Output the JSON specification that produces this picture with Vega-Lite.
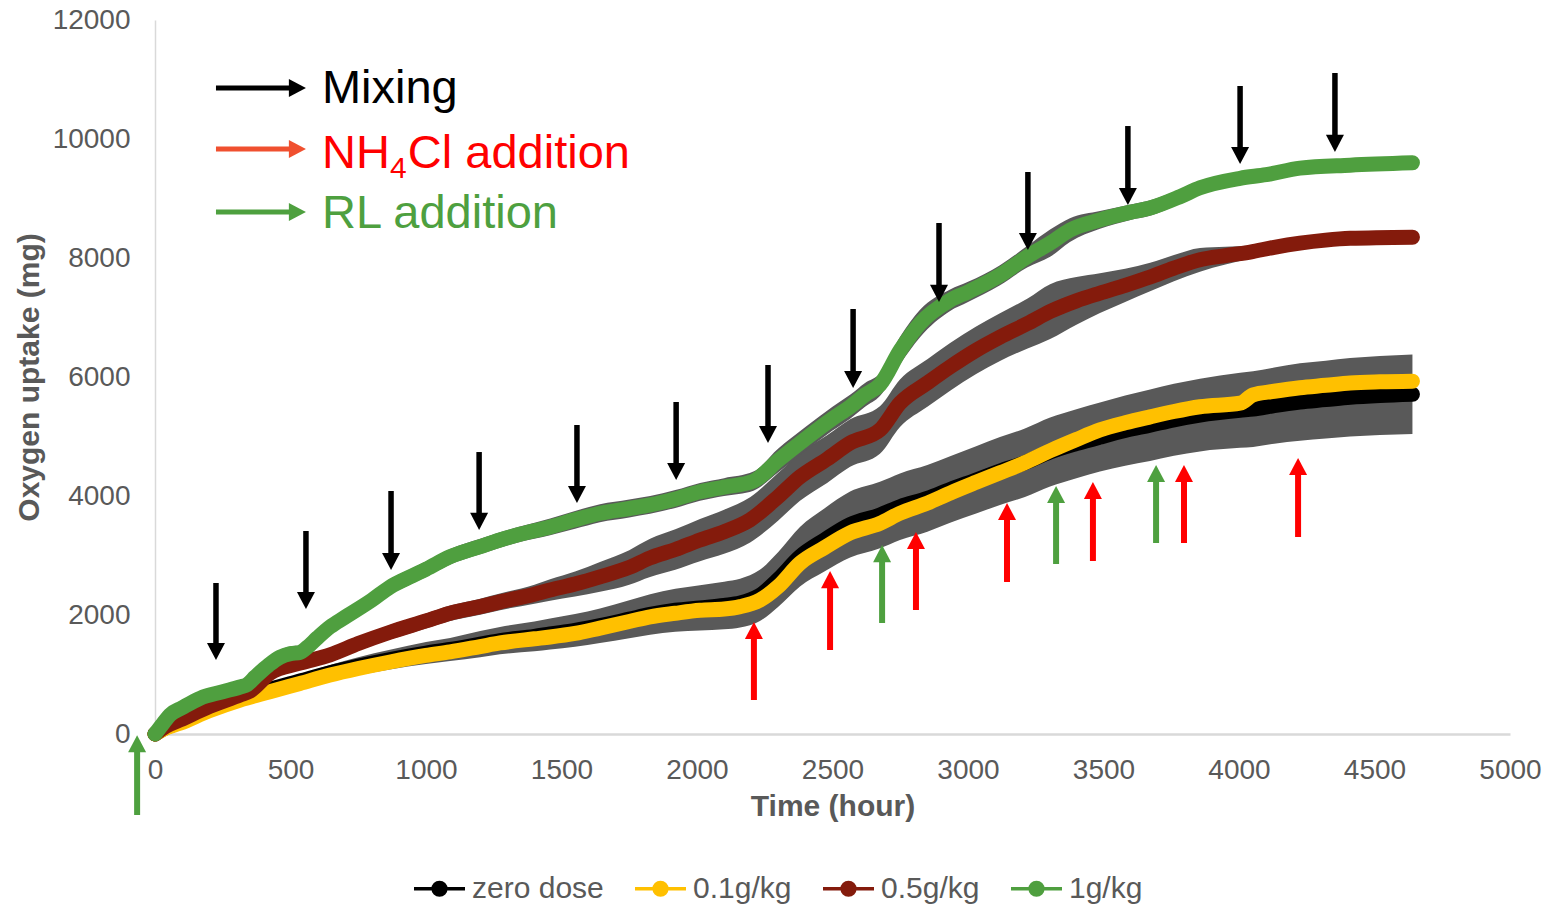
{
  "$schema": "https://vega.github.io/schema/vega-lite/v6.json",
  "width": 1355,
  "height": 714,
  "autosize": {"type": "none"},
  "padding": {"left": 155, "top": 20, "right": 35, "bottom": 172},
  "background": "white",
  "config": {
    "view": {"stroke": null},
    "font": "Liberation Sans",
    "text": {"font": "Liberation Sans"}
  },
  "datasets": {
    "series": [
      {"s":"zero dose","t":0,"v":0,"e":0},{"s":"zero dose","t":40,"v":110,"e":40},{"s":"zero dose","t":92,"v":200,"e":60},{"s":"zero dose","t":200,"v":420,"e":80},{"s":"zero dose","t":314,"v":600,"e":90},{"s":"zero dose","t":424,"v":750,"e":100},{"s":"zero dose","t":535,"v":890,"e":110},{"s":"zero dose","t":646,"v":1030,"e":130},{"s":"zero dose","t":750,"v":1140,"e":150},{"s":"zero dose","t":867,"v":1250,"e":165},{"s":"zero dose","t":1000,"v":1360,"e":185},{"s":"zero dose","t":1089,"v":1420,"e":195},{"s":"zero dose","t":1200,"v":1510,"e":220},{"s":"zero dose","t":1273,"v":1570,"e":230},{"s":"zero dose","t":1400,"v":1640,"e":250},{"s":"zero dose","t":1458,"v":1680,"e":260},{"s":"zero dose","t":1550,"v":1740,"e":275},{"s":"zero dose","t":1642,"v":1820,"e":290},{"s":"zero dose","t":1750,"v":1930,"e":320},{"s":"zero dose","t":1827,"v":2010,"e":340},{"s":"zero dose","t":1920,"v":2080,"e":360},{"s":"zero dose","t":2011,"v":2120,"e":380},{"s":"zero dose","t":2100,"v":2160,"e":400},{"s":"zero dose","t":2159,"v":2200,"e":410},{"s":"zero dose","t":2232,"v":2330,"e":430},{"s":"zero dose","t":2300,"v":2600,"e":460},{"s":"zero dose","t":2380,"v":2980,"e":500},{"s":"zero dose","t":2470,"v":3260,"e":530},{"s":"zero dose","t":2565,"v":3520,"e":555},{"s":"zero dose","t":2675,"v":3680,"e":560},{"s":"zero dose","t":2749,"v":3820,"e":560},{"s":"zero dose","t":2850,"v":3960,"e":560},{"s":"zero dose","t":2934,"v":4110,"e":560},{"s":"zero dose","t":3030,"v":4270,"e":565},{"s":"zero dose","t":3118,"v":4420,"e":570},{"s":"zero dose","t":3210,"v":4560,"e":575},{"s":"zero dose","t":3303,"v":4740,"e":580},{"s":"zero dose","t":3400,"v":4880,"e":580},{"s":"zero dose","t":3487,"v":4990,"e":580},{"s":"zero dose","t":3580,"v":5100,"e":590},{"s":"zero dose","t":3672,"v":5190,"e":600},{"s":"zero dose","t":3760,"v":5280,"e":605},{"s":"zero dose","t":3856,"v":5360,"e":610},{"s":"zero dose","t":4004,"v":5440,"e":630},{"s":"zero dose","t":4052,"v":5460,"e":635},{"s":"zero dose","t":4130,"v":5520,"e":640},{"s":"zero dose","t":4225,"v":5580,"e":650},{"s":"zero dose","t":4320,"v":5620,"e":655},{"s":"zero dose","t":4410,"v":5660,"e":660},{"s":"zero dose","t":4520,"v":5690,"e":665},{"s":"zero dose","t":4640,"v":5710,"e":670},
      {"s":"0.1g/kg","t":0,"v":0,"e":0},{"s":"0.1g/kg","t":40,"v":100,"e":0},{"s":"0.1g/kg","t":92,"v":180,"e":0},{"s":"0.1g/kg","t":200,"v":390,"e":0},{"s":"0.1g/kg","t":314,"v":570,"e":0},{"s":"0.1g/kg","t":424,"v":710,"e":0},{"s":"0.1g/kg","t":535,"v":850,"e":0},{"s":"0.1g/kg","t":646,"v":990,"e":0},{"s":"0.1g/kg","t":750,"v":1100,"e":0},{"s":"0.1g/kg","t":867,"v":1210,"e":0},{"s":"0.1g/kg","t":1000,"v":1320,"e":0},{"s":"0.1g/kg","t":1089,"v":1380,"e":0},{"s":"0.1g/kg","t":1200,"v":1470,"e":0},{"s":"0.1g/kg","t":1273,"v":1530,"e":0},{"s":"0.1g/kg","t":1400,"v":1600,"e":0},{"s":"0.1g/kg","t":1458,"v":1630,"e":0},{"s":"0.1g/kg","t":1550,"v":1690,"e":0},{"s":"0.1g/kg","t":1642,"v":1780,"e":0},{"s":"0.1g/kg","t":1750,"v":1890,"e":0},{"s":"0.1g/kg","t":1827,"v":1970,"e":0},{"s":"0.1g/kg","t":1920,"v":2030,"e":0},{"s":"0.1g/kg","t":2011,"v":2080,"e":0},{"s":"0.1g/kg","t":2100,"v":2100,"e":0},{"s":"0.1g/kg","t":2159,"v":2140,"e":0},{"s":"0.1g/kg","t":2232,"v":2250,"e":0},{"s":"0.1g/kg","t":2300,"v":2480,"e":0},{"s":"0.1g/kg","t":2380,"v":2870,"e":0},{"s":"0.1g/kg","t":2470,"v":3130,"e":0},{"s":"0.1g/kg","t":2565,"v":3380,"e":0},{"s":"0.1g/kg","t":2675,"v":3540,"e":0},{"s":"0.1g/kg","t":2749,"v":3710,"e":0},{"s":"0.1g/kg","t":2850,"v":3880,"e":0},{"s":"0.1g/kg","t":2934,"v":4050,"e":0},{"s":"0.1g/kg","t":3030,"v":4230,"e":0},{"s":"0.1g/kg","t":3118,"v":4390,"e":0},{"s":"0.1g/kg","t":3210,"v":4560,"e":0},{"s":"0.1g/kg","t":3303,"v":4760,"e":0},{"s":"0.1g/kg","t":3400,"v":4950,"e":0},{"s":"0.1g/kg","t":3487,"v":5110,"e":0},{"s":"0.1g/kg","t":3580,"v":5230,"e":0},{"s":"0.1g/kg","t":3672,"v":5330,"e":0},{"s":"0.1g/kg","t":3760,"v":5420,"e":0},{"s":"0.1g/kg","t":3856,"v":5500,"e":0},{"s":"0.1g/kg","t":4004,"v":5560,"e":0},{"s":"0.1g/kg","t":4052,"v":5700,"e":0},{"s":"0.1g/kg","t":4130,"v":5760,"e":0},{"s":"0.1g/kg","t":4225,"v":5820,"e":0},{"s":"0.1g/kg","t":4320,"v":5860,"e":0},{"s":"0.1g/kg","t":4410,"v":5900,"e":0},{"s":"0.1g/kg","t":4520,"v":5920,"e":0},{"s":"0.1g/kg","t":4640,"v":5930,"e":0},
      {"s":"0.5g/kg","t":0,"v":0,"e":0},{"s":"0.5g/kg","t":40,"v":130,"e":30},{"s":"0.5g/kg","t":92,"v":235,"e":40},{"s":"0.5g/kg","t":200,"v":460,"e":50},{"s":"0.5g/kg","t":314,"v":655,"e":50},{"s":"0.5g/kg","t":350,"v":720,"e":50},{"s":"0.5g/kg","t":424,"v":1020,"e":60},{"s":"0.5g/kg","t":535,"v":1190,"e":80},{"s":"0.5g/kg","t":646,"v":1330,"e":100},{"s":"0.5g/kg","t":750,"v":1520,"e":110},{"s":"0.5g/kg","t":867,"v":1710,"e":120},{"s":"0.5g/kg","t":1000,"v":1900,"e":125},{"s":"0.5g/kg","t":1089,"v":2030,"e":130},{"s":"0.5g/kg","t":1200,"v":2140,"e":135},{"s":"0.5g/kg","t":1273,"v":2220,"e":140},{"s":"0.5g/kg","t":1400,"v":2350,"e":160},{"s":"0.5g/kg","t":1458,"v":2420,"e":180},{"s":"0.5g/kg","t":1550,"v":2520,"e":210},{"s":"0.5g/kg","t":1642,"v":2640,"e":250},{"s":"0.5g/kg","t":1750,"v":2800,"e":290},{"s":"0.5g/kg","t":1827,"v":2960,"e":320},{"s":"0.5g/kg","t":1920,"v":3100,"e":340},{"s":"0.5g/kg","t":2011,"v":3260,"e":355},{"s":"0.5g/kg","t":2100,"v":3400,"e":370},{"s":"0.5g/kg","t":2196,"v":3600,"e":380},{"s":"0.5g/kg","t":2300,"v":3990,"e":400},{"s":"0.5g/kg","t":2380,"v":4320,"e":400},{"s":"0.5g/kg","t":2480,"v":4620,"e":400},{"s":"0.5g/kg","t":2565,"v":4890,"e":400},{"s":"0.5g/kg","t":2675,"v":5110,"e":400},{"s":"0.5g/kg","t":2749,"v":5560,"e":400},{"s":"0.5g/kg","t":2850,"v":5900,"e":400},{"s":"0.5g/kg","t":2934,"v":6170,"e":400},{"s":"0.5g/kg","t":3030,"v":6450,"e":400},{"s":"0.5g/kg","t":3118,"v":6670,"e":400},{"s":"0.5g/kg","t":3220,"v":6900,"e":420},{"s":"0.5g/kg","t":3303,"v":7100,"e":460},{"s":"0.5g/kg","t":3400,"v":7280,"e":400},{"s":"0.5g/kg","t":3487,"v":7410,"e":335},{"s":"0.5g/kg","t":3580,"v":7540,"e":280},{"s":"0.5g/kg","t":3672,"v":7680,"e":240},{"s":"0.5g/kg","t":3760,"v":7830,"e":220},{"s":"0.5g/kg","t":3856,"v":7970,"e":200},{"s":"0.5g/kg","t":3950,"v":8040,"e":150},{"s":"0.5g/kg","t":4041,"v":8100,"e":110},{"s":"0.5g/kg","t":4130,"v":8180,"e":80},{"s":"0.5g/kg","t":4225,"v":8250,"e":60},{"s":"0.5g/kg","t":4320,"v":8300,"e":50},{"s":"0.5g/kg","t":4410,"v":8330,"e":50},{"s":"0.5g/kg","t":4640,"v":8350,"e":50},
      {"s":"1g/kg","t":0,"v":0,"e":0},{"s":"1g/kg","t":30,"v":180,"e":40},{"s":"1g/kg","t":55,"v":320,"e":50},{"s":"1g/kg","t":100,"v":440,"e":60},{"s":"1g/kg","t":166,"v":600,"e":60},{"s":"1g/kg","t":250,"v":710,"e":60},{"s":"1g/kg","t":314,"v":790,"e":60},{"s":"1g/kg","t":340,"v":830,"e":70},{"s":"1g/kg","t":370,"v":960,"e":90},{"s":"1g/kg","t":420,"v":1160,"e":110},{"s":"1g/kg","t":461,"v":1290,"e":120},{"s":"1g/kg","t":500,"v":1350,"e":120},{"s":"1g/kg","t":535,"v":1370,"e":120},{"s":"1g/kg","t":560,"v":1450,"e":130},{"s":"1g/kg","t":600,"v":1620,"e":130},{"s":"1g/kg","t":646,"v":1800,"e":130},{"s":"1g/kg","t":700,"v":1960,"e":130},{"s":"1g/kg","t":800,"v":2250,"e":130},{"s":"1g/kg","t":867,"v":2470,"e":130},{"s":"1g/kg","t":950,"v":2660,"e":130},{"s":"1g/kg","t":1000,"v":2770,"e":130},{"s":"1g/kg","t":1089,"v":2980,"e":130},{"s":"1g/kg","t":1200,"v":3150,"e":130},{"s":"1g/kg","t":1273,"v":3260,"e":130},{"s":"1g/kg","t":1350,"v":3360,"e":130},{"s":"1g/kg","t":1458,"v":3480,"e":140},{"s":"1g/kg","t":1550,"v":3600,"e":150},{"s":"1g/kg","t":1642,"v":3710,"e":150},{"s":"1g/kg","t":1750,"v":3790,"e":150},{"s":"1g/kg","t":1827,"v":3850,"e":150},{"s":"1g/kg","t":1920,"v":3950,"e":150},{"s":"1g/kg","t":2011,"v":4070,"e":150},{"s":"1g/kg","t":2100,"v":4150,"e":150},{"s":"1g/kg","t":2208,"v":4250,"e":160},{"s":"1g/kg","t":2300,"v":4600,"e":200},{"s":"1g/kg","t":2400,"v":4960,"e":200},{"s":"1g/kg","t":2500,"v":5300,"e":200},{"s":"1g/kg","t":2565,"v":5500,"e":200},{"s":"1g/kg","t":2620,"v":5700,"e":200},{"s":"1g/kg","t":2675,"v":5870,"e":190},{"s":"1g/kg","t":2750,"v":6450,"e":230},{"s":"1g/kg","t":2823,"v":6900,"e":230},{"s":"1g/kg","t":2934,"v":7290,"e":180},{"s":"1g/kg","t":3000,"v":7430,"e":170},{"s":"1g/kg","t":3118,"v":7710,"e":170},{"s":"1g/kg","t":3218,"v":8020,"e":180},{"s":"1g/kg","t":3303,"v":8250,"e":230},{"s":"1g/kg","t":3376,"v":8470,"e":200},{"s":"1g/kg","t":3487,"v":8640,"e":150},{"s":"1g/kg","t":3600,"v":8770,"e":130},{"s":"1g/kg","t":3672,"v":8840,"e":130},{"s":"1g/kg","t":3782,"v":9030,"e":120},{"s":"1g/kg","t":3856,"v":9180,"e":110},{"s":"1g/kg","t":4004,"v":9340,"e":110},{"s":"1g/kg","t":4100,"v":9400,"e":100},{"s":"1g/kg","t":4225,"v":9510,"e":100},{"s":"1g/kg","t":4410,"v":9560,"e":100},{"s":"1g/kg","t":4640,"v":9600,"e":100}
    ],
    "arrows": [
      {"k":"mix","x0":225,"x1":225,"y0":2538,"y1":1244},
      {"k":"mix","x0":557,"x1":557,"y0":3412,"y1":2101},
      {"k":"mix","x0":871,"x1":871,"y0":4084,"y1":2756},
      {"k":"mix","x0":1196,"x1":1196,"y0":4739,"y1":3429},
      {"k":"mix","x0":1557,"x1":1557,"y0":5193,"y1":3882},
      {"k":"mix","x0":1923,"x1":1923,"y0":5580,"y1":4269},
      {"k":"mix","x0":2262,"x1":2262,"y0":6202,"y1":4891},
      {"k":"mix","x0":2576,"x1":2576,"y0":7143,"y1":5815},
      {"k":"mix","x0":2893,"x1":2893,"y0":8588,"y1":7261},
      {"k":"mix","x0":3221,"x1":3221,"y0":9445,"y1":8134},
      {"k":"mix","x0":3590,"x1":3590,"y0":10218,"y1":8891},
      {"k":"mix","x0":4004,"x1":4004,"y0":10891,"y1":9580},
      {"k":"mix","x0":4354,"x1":4354,"y0":11109,"y1":9782},
      {"k":"nh4","x0":2210,"x1":2210,"y0":571,"y1":1882},
      {"k":"nh4","x0":2491,"x1":2491,"y0":1412,"y1":2739},
      {"k":"nh4","x0":2808,"x1":2808,"y0":2084,"y1":3395},
      {"k":"nh4","x0":3144,"x1":3144,"y0":2555,"y1":3882},
      {"k":"nh4","x0":3461,"x1":3461,"y0":2908,"y1":4235},
      {"k":"nh4","x0":3797,"x1":3797,"y0":3210,"y1":4521},
      {"k":"nh4","x0":4218,"x1":4218,"y0":3311,"y1":4639},
      {"k":"rl","x0":-66,"x1":-66,"y0":-1361,"y1":-20},
      {"k":"rl","x0":2683,"x1":2683,"y0":1866,"y1":3176},
      {"k":"rl","x0":3325,"x1":3325,"y0":2857,"y1":4168},
      {"k":"rl","x0":3694,"x1":3694,"y0":3210,"y1":4521},
      {"k":"legmix","x0":225,"x1":557,"y0":10857,"y1":10857},
      {"k":"legnh4","x0":225,"x1":557,"y0":9832,"y1":9832},
      {"k":"legrl","x0":225,"x1":557,"y0":8773,"y1":8773}
    ],
    "texts": [
      {"label":"Mixing","k":"txtmix","x":616,"y":10597,"sz":"big"},
      {"label":"NH","k":"txtnh4","x":616,"y":9521,"sz":"big"},
      {"label":"4","k":"txtnh4","x":867,"y":9345,"sz":"sub"},
      {"label":"Cl addition","k":"txtnh4","x":933,"y":9521,"sz":"big"},
      {"label":"RL addition","k":"txtrl","x":616,"y":8496,"sz":"big"}
    ]
  },
  "layer": [
    {
      "data": {"name": "series"},
      "mark": {"type": "errorband", "color": "#595959", "opacity": 1, "interpolate": "monotone", "band": {"opacity": 1, "color": "#595959"}},
      "encoding": {
        "x": {"field": "t", "type": "quantitative", "title": "Time (hour)",
              "scale": {"domain": [0, 5000], "nice": false, "zero": false}},
        "y": {"field": "v", "type": "quantitative", "title": "Oxygen uptake (mg)",
              "scale": {"domain": [0, 12000], "nice": false}},
        "yError": {"field": "e"},
        "detail": {"field": "s", "type": "nominal"}
      }
    },
    {
      "data": {"name": "series"},
      "mark": {"type": "line", "strokeWidth": 15, "strokeCap": "round", "strokeJoin": "round", "interpolate": "monotone"},
      "encoding": {
        "x": {"field": "t", "type": "quantitative", "title": "Time (hour)",
              "axis": {"values": [0,500,1000,1500,2000,2500,3000,3500,4000,4500,5000], "format": "d",
                       "grid": false, "ticks": false, "tickSize": 0, "labelFontSize": 28, "labelColor": "#595959",
                       "labelFont": "Liberation Sans", "labelPadding": 22, "labelFlush": false, "labelOverlap": false,
                       "domainColor": "#D9D9D9", "domainWidth": 2.5,
                       "titleFont": "Liberation Sans", "titleFontSize": 30, "titleFontWeight": "bold", "titleColor": "#595959", "titlePadding": 7}},
        "y": {"field": "v", "type": "quantitative", "title": "Oxygen uptake (mg)",
              "axis": {"values": [0,2000,4000,6000,8000,10000,12000], "format": "d",
                       "grid": false, "ticks": false, "tickSize": 0, "labelFontSize": 28, "labelColor": "#595959",
                       "labelFont": "Liberation Sans", "labelPadding": 25, "labelFlush": false, "labelOverlap": false,
                       "domainColor": "#D9D9D9", "domainWidth": 1.5,
                       "titleFont": "Liberation Sans", "titleFontSize": 30, "titleFontWeight": "bold", "titleColor": "#595959", "titlePadding": 8}},
        "color": {"field": "s", "type": "nominal",
                  "scale": {"domain": ["zero dose", "0.1g/kg", "0.5g/kg", "1g/kg"], "range": ["#000000", "#FFC000", "#841B0C", "#4F9F3F"]},
                  "legend": {"orient": "none", "legendX": 257, "legendY": 841, "direction": "horizontal", "title": null,
                             "symbolType": "M-1,0L1,0M0.25,0A0.25,0.25,0,1,1,-0.25,0A0.25,0.25,0,1,1,0.25,0Z",
                             "symbolSize": 2600, "symbolStrokeWidth": 3.5, "labelFontSize": 30, "labelColor": "#595959",
                             "labelFont": "Liberation Sans", "labelOffset": 5, "columnPadding": 24, "labelLimit": 0,
                             "encode": {"symbols": {"update": {"fill": {"scale": "color", "field": "value"}, "strokeWidth": {"value": 3.5}, "opacity": {"value": 1}}}}}},
        "order": {"field": "t", "type": "quantitative"}
      }
    },
    {
      "data": {"name": "arrows"},
      "transform": [{"filter": {"field": "k", "equal": "mix"}}],
      "mark": {"type": "rule", "strokeWidth": 5.5, "y2Offset": -14},
      "encoding": {
        "x": {"field": "x0", "type": "quantitative", "title": "Time (hour)"},
        "y": {"field": "y0", "type": "quantitative", "title": "Oxygen uptake (mg)"},
        "y2": {"field": "y1"},
        "stroke": {"field": "k", "type": "nominal", "legend": null,
                   "scale": {"domain": ["mix","nh4","rl","legmix","legnh4","legrl"], "range": ["#000000","#FF0000","#4EA03F","#000000","#F0502F","#4EA03F"]}}
      }
    },
    {
      "data": {"name": "arrows"},
      "transform": [{"filter": {"field": "k", "oneOf": ["nh4", "rl"]}}],
      "mark": {"type": "rule", "strokeWidth": 6, "y2Offset": 14},
      "encoding": {
        "x": {"field": "x0", "type": "quantitative", "title": "Time (hour)"},
        "y": {"field": "y0", "type": "quantitative", "title": "Oxygen uptake (mg)"},
        "y2": {"field": "y1"},
        "stroke": {"field": "k", "type": "nominal", "legend": null,
                   "scale": {"domain": ["mix","nh4","rl","legmix","legnh4","legrl"], "range": ["#000000","#FF0000","#4EA03F","#000000","#F0502F","#4EA03F"]}}
      }
    },
    {
      "data": {"name": "arrows"},
      "transform": [{"filter": {"field": "k", "oneOf": ["legmix", "legnh4", "legrl"]}}],
      "mark": {"type": "rule", "strokeWidth": 5, "x2Offset": -14},
      "encoding": {
        "x": {"field": "x0", "type": "quantitative", "title": "Time (hour)"},
        "x2": {"field": "x1"},
        "y": {"field": "y0", "type": "quantitative", "title": "Oxygen uptake (mg)"},
        "stroke": {"field": "k", "type": "nominal", "legend": null,
                   "scale": {"domain": ["mix","nh4","rl","legmix","legnh4","legrl"], "range": ["#000000","#FF0000","#4EA03F","#000000","#F0502F","#4EA03F"]}}
      }
    },
    {
      "data": {"name": "arrows"},
      "mark": {"type": "point", "filled": true, "size": 324, "opacity": 1, "strokeWidth": 0},
      "encoding": {
        "x": {"field": "x1", "type": "quantitative", "title": "Time (hour)"},
        "y": {"field": "y1", "type": "quantitative", "title": "Oxygen uptake (mg)"},
        "shape": {"field": "k", "type": "nominal", "legend": null,
                  "scale": {"domain": ["mix","nh4","rl","legmix","legnh4","legrl"],
                            "range": ["M-1,-1.9L1,-1.9L0,0Z","M-1,1.9L1,1.9L0,0Z","M-1,1.9L1,1.9L0,0Z","M-1.9,-1L-1.9,1L0,0Z","M-1.9,-1L-1.9,1L0,0Z","M-1.9,-1L-1.9,1L0,0Z"]}},
        "fill": {"field": "k", "type": "nominal", "legend": null,
                 "scale": {"domain": ["mix","nh4","rl","legmix","legnh4","legrl","txtmix","txtnh4","txtrl"], "range": ["#000000","#FF0000","#4EA03F","#000000","#F0502F","#4EA03F","#000000","#FF0000","#4EA03F"]}}
      }
    },
    {
      "data": {"name": "texts"},
      "transform": [{"filter": {"field": "sz", "equal": "big"}}],
      "mark": {"type": "text", "align": "left", "baseline": "alphabetic", "fontSize": 47, "font": "Liberation Sans"},
      "encoding": {
        "x": {"field": "x", "type": "quantitative", "title": "Time (hour)"},
        "y": {"field": "y", "type": "quantitative", "title": "Oxygen uptake (mg)"},
        "text": {"field": "label"},
        "fill": {"field": "k", "type": "nominal", "legend": null,
                 "scale": {"domain": ["mix","nh4","rl","legmix","legnh4","legrl","txtmix","txtnh4","txtrl"], "range": ["#000000","#FF0000","#4EA03F","#000000","#F0502F","#4EA03F","#000000","#FF0000","#4EA03F"]}}
      }
    },
    {
      "data": {"name": "texts"},
      "transform": [{"filter": {"field": "sz", "equal": "sub"}}],
      "mark": {"type": "text", "align": "left", "baseline": "alphabetic", "fontSize": 30, "font": "Liberation Sans"},
      "encoding": {
        "x": {"field": "x", "type": "quantitative", "title": "Time (hour)"},
        "y": {"field": "y", "type": "quantitative", "title": "Oxygen uptake (mg)"},
        "text": {"field": "label"},
        "fill": {"field": "k", "type": "nominal", "legend": null,
                 "scale": {"domain": ["mix","nh4","rl","legmix","legnh4","legrl","txtmix","txtnh4","txtrl"], "range": ["#000000","#FF0000","#4EA03F","#000000","#F0502F","#4EA03F","#000000","#FF0000","#4EA03F"]}}
      }
    }
  ]
}
